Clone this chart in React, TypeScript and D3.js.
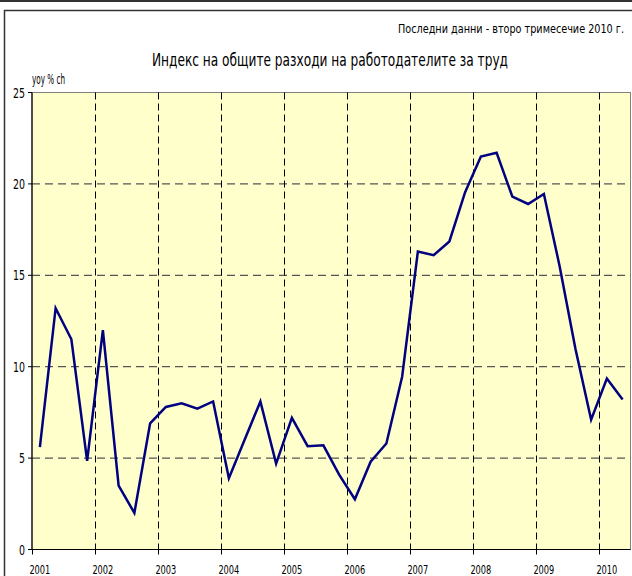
import React from "react";
import * as d3 from "d3";

const years = ["2001", "2002", "2003", "2004", "2005", "2006", "2007", "2008", "2009", "2010"];
const yTicks = [0, 5, 10, 15, 20, 25];
const values = [
  5.6, 13.2, 11.5, 4.85,
  12.0, 3.5, 2.0, 6.9,
  7.8, 8.0, 7.7, 8.1,
  3.9, 6.0, 8.1, 4.7,
  7.2, 5.65, 5.7, 4.1,
  2.75, 4.8, 5.8, 9.45,
  16.3, 16.1, 16.85, 19.55,
  21.5, 21.7, 19.3, 18.9,
  19.45, 15.5, 11.0, 7.1,
  9.35, 8.2,
];
const title = "Индекс на общите разходи на работодателите за труд";
const note = "Последни данни - второ тримесечие 2010 г.";
const yLabel = "yoy % ch";

const W = 632;
const H = 576;
const left = 32;
const right = 630.5;
const top = 92.5;
const bottom = 549.5;
const FONT = "'DejaVu Sans Condensed', 'Liberation Sans', sans-serif";

export default function App() {
  const nQ = values.length;
  const x = d3.scaleLinear().domain([0, nQ]).range([left, right]);
  const y = d3.scaleLinear().domain([0, 25]).range([bottom, top]);
  const line = d3
    .line<number>()
    .x((_, i) => x(i + 0.5))
    .y((d) => y(d));

  return (
    <svg
      width={W}
      height={H}
      style={{ position: "absolute", left: 0, top: 0, background: "#fff" }}
      fontFamily={FONT}
    >
      <rect x={0} y={0} width={W} height={H} fill="#fff" />
      <line x1={0} x2={W} y1={1} y2={1} stroke="#333" strokeWidth={2} />
      <rect x={4.5} y={10.5} width={W} height={H} fill="none" stroke="#333" strokeWidth={1.5} />

      <text x={624} y={33} textAnchor="end" fontSize={12.5} fill="#000" textLength={226} lengthAdjust="spacingAndGlyphs">
        {note}
      </text>
      <text x={152} y={66} fontSize={17.5} fill="#000" textLength={356} lengthAdjust="spacingAndGlyphs">
        {title}
      </text>
      <text x={32} y={84} fontSize={14} fill="#000" textLength={33} lengthAdjust="spacingAndGlyphs">
        {yLabel}
      </text>

      <rect x={left} y={top} width={right - left} height={bottom - top} fill="#FFFFCC" stroke="#808080" strokeWidth={1} />

      {yTicks
        .filter((t) => t > 0 && t < 25)
        .map((t) => (
          <line
            key={"h" + t}
            x1={left}
            x2={right}
            y1={y(t)}
            y2={y(t)}
            stroke="#555"
            strokeWidth={1.3}
            strokeDasharray="8,5"
          />
        ))}
      {years.slice(1).map((yr, i) => {
        const xv = Math.round(x((i + 1) * 4)) + 0.5;
        return (
          <line
            key={"v" + yr}
            x1={xv}
            x2={xv}
            y1={top}
            y2={bottom}
            stroke="#000"
            strokeWidth={1}
            strokeDasharray="7,4"
          />
        );
      })}

      <line x1={left} x2={left} y1={top} y2={bottom} stroke="#000" strokeWidth={1.2} />
      <line x1={left - 1} x2={right} y1={bottom} y2={bottom} stroke="#000" strokeWidth={1.2} />

      {yTicks.map((t) => (
        <g key={"yt" + t}>
          <line x1={left - 4} x2={left} y1={y(t)} y2={y(t)} stroke="#000" strokeWidth={1} />
          <text
            x={left - 7}
            y={y(t) + 5}
            textAnchor="end"
            fontSize={14}
            fill="#000"
            textLength={String(t).length * 6}
            lengthAdjust="spacingAndGlyphs"
          >
            {t}
          </text>
        </g>
      ))}

      {years.map((yr, i) => {
        const xv = Math.round(x(i * 4)) + 0.5;
        return (
          <g key={"xt" + yr}>
            <line x1={xv} x2={xv} y1={bottom} y2={bottom + 5} stroke="#000" strokeWidth={1} />
            <text
              x={x(i * 4 + 0.5)}
              y={574}
              textAnchor="middle"
              fontSize={13}
              fill="#000"
              textLength={21}
              lengthAdjust="spacingAndGlyphs"
            >
              {yr}
            </text>
          </g>
        );
      })}

      <path d={line(values) || ""} fill="none" stroke="#000080" strokeWidth={2.5} strokeLinejoin="miter" />
    </svg>
  );
}
